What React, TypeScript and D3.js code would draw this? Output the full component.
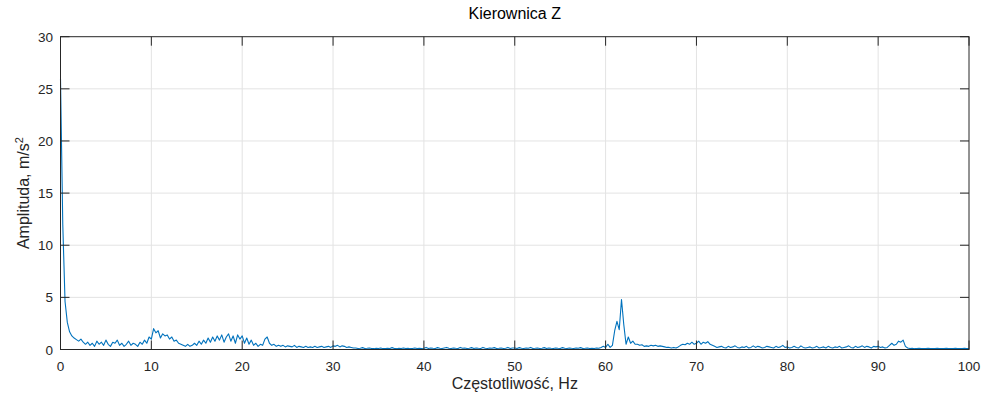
import React from "react";
import * as d3 from "d3";

// Amplitude spectrum, sampled every 0.25 Hz from 0 to 100 Hz
const freqStep = 0.25;

const amp0to10 = [
  26, 12, 4.6, 2.6, 1.7, 1.3, 1.1, 0.95, 0.8, 1.0,
  0.7, 0.5, 0.7, 0.4, 0.6, 0.3, 0.8, 0.5, 0.7, 0.4,
  0.9, 0.5, 0.3, 0.7, 0.6, 0.9, 0.4, 0.6, 0.3, 0.5,
  0.8, 0.4, 0.6, 0.5, 0.3, 0.7, 0.5, 0.9, 0.6, 1.2,
];
const amp10to20 = [
  1.0, 2.0, 1.6, 1.8, 1.1, 1.5, 1.3, 1.4, 1.0, 1.2,
  0.8, 0.9, 0.6, 0.5, 0.4, 0.3, 0.5, 0.3, 0.4, 0.6,
  0.4, 0.8, 0.5, 0.9, 0.6, 1.1, 0.7, 1.2, 0.8, 1.3,
  0.9, 1.4, 0.7, 1.2, 1.5, 0.8, 1.3, 0.6, 1.4, 1.0,
];
const amp20to30 = [
  1.3, 0.6, 1.1, 0.5, 0.9, 0.4, 0.6, 0.3, 0.5, 0.4,
  1.0, 1.2, 0.6, 0.4, 0.5, 0.3, 0.4, 0.3, 0.4, 0.25,
  0.35, 0.3, 0.25, 0.4, 0.2, 0.3, 0.25, 0.2, 0.3, 0.2,
  0.25, 0.2, 0.3, 0.2, 0.25, 0.3, 0.2, 0.25, 0.3, 0.2,
];
const amp30to40 = [
  0.35, 0.3, 0.4, 0.25, 0.35, 0.3, 0.2, 0.25, 0.2, 0.15,
  0.15, 0.1, 0.12, 0.18, 0.1, 0.12, 0.15, 0.1, 0.08, 0.12,
  0.1, 0.15, 0.08, 0.1, 0.12, 0.1, 0.18, 0.1, 0.08, 0.12,
  0.1, 0.15, 0.1, 0.12, 0.08, 0.1, 0.15, 0.1, 0.12, 0.1,
];
const amp40to50 = [
  0.12, 0.2, 0.1, 0.15, 0.12, 0.1, 0.18, 0.12, 0.1, 0.15,
  0.2, 0.12, 0.1, 0.15, 0.12, 0.1, 0.2, 0.12, 0.15, 0.1,
  0.12, 0.18, 0.1, 0.15, 0.12, 0.1, 0.2, 0.12, 0.1, 0.15,
  0.12, 0.18, 0.1, 0.12, 0.15, 0.1, 0.12, 0.2, 0.1, 0.15,
];
const amp50to60 = [
  0.15, 0.1, 0.18, 0.12, 0.1, 0.15, 0.12, 0.2, 0.1, 0.12,
  0.15, 0.1, 0.12, 0.18, 0.1, 0.15, 0.12, 0.1, 0.15, 0.12,
  0.1, 0.18, 0.12, 0.1, 0.15, 0.12, 0.1, 0.15, 0.12, 0.18,
  0.1, 0.12, 0.15, 0.1, 0.12, 0.1, 0.15, 0.12, 0.2, 0.3,
];
const amp60to70 = [
  0.2, 0.5, 0.2, 0.4, 1.8, 2.7, 1.9, 4.8, 2.4, 0.5,
  1.2, 0.6, 0.8, 0.5, 0.5, 0.4, 0.45, 0.3, 0.35, 0.3,
  0.4, 0.35, 0.4, 0.3, 0.35, 0.3, 0.25, 0.2, 0.2, 0.15,
  0.2, 0.15, 0.25, 0.4, 0.5, 0.45, 0.6, 0.5, 0.7, 0.5,
];
const amp70to80 = [
  0.6, 0.8, 0.5, 0.7, 0.6, 0.75, 0.5, 0.4, 0.3, 0.2,
  0.25, 0.3, 0.2, 0.15, 0.3, 0.2, 0.25, 0.35, 0.2, 0.15,
  0.25, 0.2, 0.3, 0.15, 0.2, 0.35, 0.2, 0.3, 0.25, 0.15,
  0.2, 0.3, 0.25, 0.2, 0.15, 0.3, 0.2, 0.25, 0.4, 0.2,
];
const amp80to90 = [
  0.25, 0.15, 0.2, 0.3, 0.2, 0.15, 0.35, 0.2, 0.15, 0.2,
  0.25, 0.15, 0.2, 0.3, 0.15, 0.2, 0.25, 0.15, 0.3, 0.2,
  0.15, 0.25, 0.2, 0.3, 0.15, 0.2, 0.25, 0.35, 0.2, 0.15,
  0.3, 0.2, 0.25, 0.35, 0.2, 0.3, 0.25, 0.15, 0.3, 0.25,
];
const amp90to100 = [
  0.3, 0.2, 0.25, 0.15, 0.2, 0.4, 0.6, 0.4, 0.5, 0.8,
  0.7, 0.9, 0.3, 0.15, 0.1, 0.12, 0.08, 0.1, 0.12, 0.1,
  0.08, 0.1, 0.12, 0.1, 0.08, 0.1, 0.12, 0.1, 0.08, 0.1,
  0.12, 0.1, 0.08, 0.1, 0.12, 0.1, 0.08, 0.1, 0.12, 0.1,
  0.1,
];

const amplitudes = [
  ...amp0to10, ...amp10to20, ...amp20to30, ...amp30to40, ...amp40to50,
  ...amp50to60, ...amp60to70, ...amp70to80, ...amp80to90, ...amp90to100,
];

const xTicks = [0, 10, 20, 30, 40, 50, 60, 70, 80, 90, 100];
const yTicks = [0, 5, 10, 15, 20, 25, 30];

const titleText = "Kierownica Z";
const xLabel = "Częstotliwość, Hz";

const W = 984;
const H = 394;
const left = 60.5;
const right = 969;
const top = 36.7;
const bottom = 349.5;
const tickLen = 9;
const axisColor = "#262626";
const gridColor = "#e3e3e3";
const lineColor = "#0072BD";
const font = "'Liberation Sans', Arial, Helvetica, sans-serif";

export default function App() {
  const x = d3.scaleLinear().domain([0, 100]).range([left, right]);
  const y = d3.scaleLinear().domain([0, 30]).range([bottom, top]);

  const points: [number, number][] = amplitudes.map((a, i) => [i * freqStep, a]);
  const path = d3
    .line<[number, number]>()
    .x((d) => x(d[0]))
    .y((d) => y(d[1]))(points);

  return (
    <svg
      width={W}
      height={H}
      style={{ position: "absolute", left: 0, top: 0, background: "#fff" }}
      fontFamily={font}
    >
      <rect x={0} y={0} width={W} height={H} fill="#fff" />
      {/* grid */}
      {xTicks.slice(1, -1).map((t) => (
        <line key={"gx" + t} x1={x(t)} x2={x(t)} y1={top} y2={bottom} stroke={gridColor} strokeWidth={1} />
      ))}
      {yTicks.slice(1, -1).map((t) => (
        <line key={"gy" + t} x1={left} x2={right} y1={y(t)} y2={y(t)} stroke={gridColor} strokeWidth={1} />
      ))}
      {/* spectrum */}
      <path d={path || ""} fill="none" stroke={lineColor} strokeWidth={1.1} strokeLinejoin="round" />
      {/* axes box */}
      <rect x={left} y={top} width={right - left} height={bottom - top} fill="none" stroke={axisColor} strokeWidth={1} />
      {/* inward ticks */}
      {xTicks.map((t) => (
        <g key={"tx" + t}>
          <line x1={x(t)} x2={x(t)} y1={bottom} y2={bottom - tickLen} stroke={axisColor} />
          <line x1={x(t)} x2={x(t)} y1={top} y2={top + tickLen} stroke={axisColor} />
          <text x={x(t)} y={371} textAnchor="middle" fontSize={13.5} fill={axisColor}>
            {t}
          </text>
        </g>
      ))}
      {yTicks.map((t) => (
        <g key={"ty" + t}>
          <line x1={left} x2={left + tickLen} y1={y(t)} y2={y(t)} stroke={axisColor} />
          <line x1={right} x2={right - tickLen} y1={y(t)} y2={y(t)} stroke={axisColor} />
          <text x={53} y={y(t) + 5} textAnchor="end" fontSize={13.5} fill={axisColor}>
            {t}
          </text>
        </g>
      ))}
      {/* labels */}
      <text x={(left + right) / 2} y={19} textAnchor="middle" fontSize={16} fill="#000">
        {titleText}
      </text>
      <text x={(left + right) / 2} y={389} textAnchor="middle" fontSize={16} fill={axisColor}>
        {xLabel}
      </text>
      <text
        transform={`translate(29, ${(top + bottom) / 2}) rotate(-90)`}
        textAnchor="middle"
        fontSize={16}
        fill={axisColor}
      >
        Amplituda, m/s
        <tspan dy={-6} fontSize={11}>2</tspan>
      </text>
    </svg>
  );
}
